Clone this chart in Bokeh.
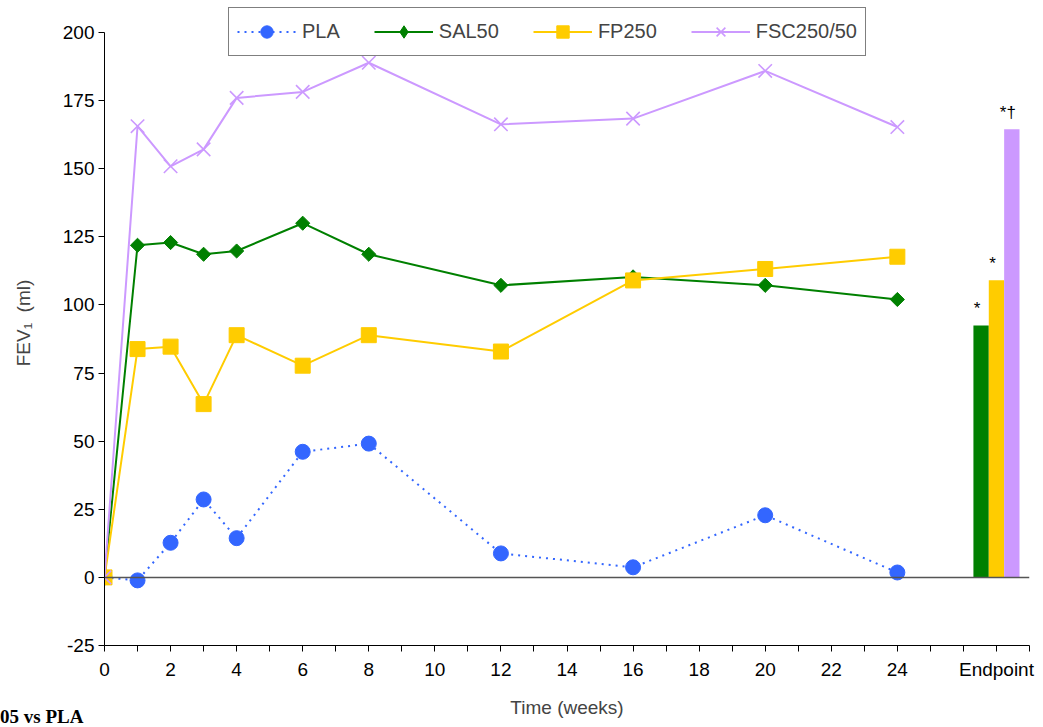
from bokeh.plotting import figure
from bokeh.models import (FixedTicker, Span, Legend, LegendItem, ColumnDataSource, Div)
from bokeh.layouts import column
from bokeh.core.properties import value
from bokeh.embed import file_html
from bokeh.resources import INLINE

# ---------------- data ----------------
weeks = [0, 1, 2, 3, 4, 6, 8, 12, 16, 20, 24]
pla = [0, -1.1, 12.7, 28.6, 14.4, 46.1, 49.1, 8.8, 3.7, 22.8, 1.8]
sal50 = [0, 121.9, 122.9, 118.6, 119.8, 130.0, 118.6, 107.2, 110.3, 107.2, 102.0]
fp250 = [0, 83.8, 84.7, 63.6, 88.9, 77.7, 88.9, 82.9, 109.0, 113.2, 117.7]
fsc250_50 = [0, 165.6, 150.9, 157.1, 176.0, 178.2, 188.9, 166.3, 168.4, 185.9, 165.3]

series_names = ["PLA", "SAL50", "FP250", "FSC250/50"]
endpoint_groups = ["SAL50", "FP250", "FSC250/50"]
endpoint_values = [92.5, 109.1, 164.5]
endpoint_marks = ["*", "*", "*\u2020"]

week_tick_labels = ["0", "2", "4", "6", "8", "10", "12", "14", "16", "18", "20", "22", "24"]
endpoint_label = "Endpoint"
endpoint_pos = 27
x_max = 28
y_ticks = [-25, 0, 25, 50, 75, 100, 125, 150, 175, 200]
footnote = "05 vs PLA"

# ---------------- style ----------------
FONT = "Liberation Sans"
C_PLA = "#3366FF"
C_SAL = "#008000"
C_FP = "#FFCC00"
C_FSC = "#CC99FF"

W, H = 1043, 727
BORDER_L, BORDER_R, BORDER_B = 104, 14, 82
AXIS_TOP_PX = 32                     # pixel row where the value 200 sits
frame_h = H - BORDER_B
px_per_unit = (frame_h - AXIS_TOP_PX) / (y_ticks[-1] - y_ticks[0])
y_top = y_ticks[-1] + AXIS_TOP_PX / px_per_unit   # frame reaches the top of the canvas

p = figure(width=W, height=H, x_range=(0, x_max), y_range=(y_ticks[0], y_top),
           output_backend="svg", toolbar_location=None,
           min_border_left=BORDER_L, min_border_right=BORDER_R, min_border_top=0,
           min_border_bottom=BORDER_B)
p.outline_line_color = None
p.xgrid.grid_line_color = None
p.ygrid.grid_line_color = None
p.background_fill_color = "white"
p.border_fill_color = "white"

# axes
xa = p.xaxis[0]
xa.ticker = FixedTicker(ticks=list(range(0, x_max + 1)))
overrides = {i: "" for i in range(0, x_max + 1)}
for lab in week_tick_labels:
    overrides[int(lab)] = lab
overrides[endpoint_pos] = endpoint_label
xa.major_label_overrides = overrides
xa.minor_tick_line_color = None
xa.major_tick_out = 6
xa.major_tick_in = 0
xa.axis_line_color = "black"
xa.major_tick_line_color = "black"
xa.major_label_text_font = FONT
xa.major_label_text_font_size = "19px"
xa.major_label_text_color = "black"
xa.major_label_standoff = 7
xa.axis_label = "Time (weeks)"
xa.axis_label_text_font = FONT
xa.axis_label_text_font_size = "19px"
xa.axis_label_text_font_style = "normal"
xa.axis_label_standoff = 14

ya = p.yaxis[0]
ya.ticker = FixedTicker(ticks=y_ticks)
ya.bounds = (y_ticks[0], y_ticks[-1])
ya.major_label_overrides = {t: str(t) for t in y_ticks}
ya.minor_tick_line_color = None
ya.major_tick_out = 6
ya.major_tick_in = 0
ya.axis_line_color = "black"
ya.major_tick_line_color = "black"
ya.major_label_text_font = FONT
ya.major_label_text_font_size = "19px"
ya.major_label_text_color = "black"
ya.major_label_standoff = 4
ya.axis_label = "FEV\u2081\u00a0 (ml)"
ya.axis_label_text_font = FONT
ya.axis_label_text_font_size = "19px"
ya.axis_label_text_font_style = "normal"
ya.axis_label_standoff = 26

# zero line
p.add_layout(Span(location=0, dimension="width", line_color="#555555", line_width=1.5))

# endpoint bars
bar_w = 0.465
bar_x = [endpoint_pos + (i - 1) * bar_w for i in range(len(endpoint_values))]
bar_src = ColumnDataSource(dict(x=bar_x, top=endpoint_values, color=[C_SAL, C_FP, C_FSC],
                                mark=endpoint_marks, grp=endpoint_groups))
p.vbar(x="x", top="top", bottom=0, width=bar_w, fill_color="color", line_color=None, source=bar_src)
p.text(x="x", y="top", text="mark", source=bar_src, text_align="center", text_baseline="bottom",
       x_offset=-4, y_offset=-7, text_font=value(FONT), text_font_size="17px", text_color="black")

# lines
src = ColumnDataSource(dict(w=weeks, pla=pla, sal=sal50, fp=fp250, fsc=fsc250_50))
l1 = p.line("w", "pla", source=src, line_color=C_PLA, line_width=2, line_dash="2 5")
m1 = p.scatter("w", "pla", source=src, marker="circle", size=15, fill_color=C_PLA, line_color=C_PLA)
l2 = p.line("w", "sal", source=src, line_color=C_SAL, line_width=2)
m2 = p.scatter("w", "sal", source=src, marker="square", angle=0.785398, size=10,
               fill_color=C_SAL, line_color=C_SAL)
l3 = p.line("w", "fp", source=src, line_color=C_FP, line_width=2)
m3 = p.scatter("w", "fp", source=src, marker="square", size=15, fill_color=C_FP, line_color=C_FP)
l4 = p.line("w", "fsc", source=src, line_color=C_FSC, line_width=2)
m4 = p.scatter("w", "fsc", source=src, marker="x", size=19, line_color=C_FSC, line_width=1.6)

# legend-only swatch for the diamond (legend does not apply marker angles); NaN draws nothing
nan = float("nan")
leg_src = ColumnDataSource(dict(w=[nan], v=[nan]))
m2_leg = p.scatter("w", "v", source=leg_src, marker="diamond", size=15,
                   fill_color=C_SAL, line_color=C_SAL)

legend = Legend(items=[LegendItem(label=series_names[0], renderers=[l1, m1]),
                       LegendItem(label=series_names[1], renderers=[l2, m2_leg]),
                       LegendItem(label=series_names[2], renderers=[l3, m3]),
                       LegendItem(label=series_names[3], renderers=[l4, m4])],
                orientation="horizontal", location=(124, frame_h - 56),
                label_text_font=FONT, label_text_font_size="20px",
                glyph_width=59, glyph_height=31, label_height=31, label_standoff=6, spacing=34,
                padding=8, margin=0, border_line_color="black", border_line_width=1.5,
                background_fill_color="white", background_fill_alpha=1.0)
p.add_layout(legend, "center")

# footnote at the bottom left, overlapping the figure's bottom margin
note = Div(text="<b>%s</b>" % footnote, width=200, height=19, margin=(-20, 0, 0, 0),
           styles={"font-family": "'Liberation Serif', serif", "font-size": "19px",
                   "line-height": "19px", "color": "black", "white-space": "nowrap"})

layout = column(p, note, spacing=0)
open("out.html", "w").write(file_html(layout, INLINE))
